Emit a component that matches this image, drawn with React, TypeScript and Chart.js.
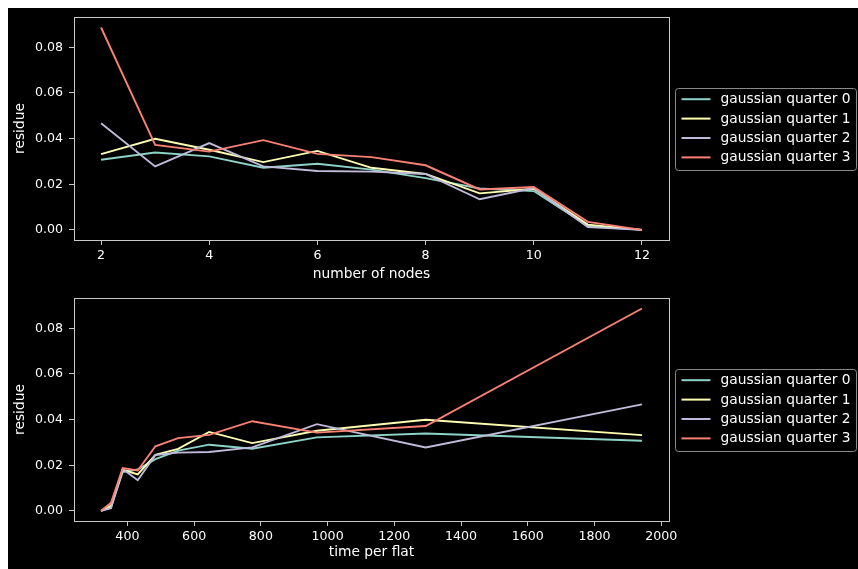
import React, { useEffect, useRef } from 'react';
import { Chart, registerables } from 'chart.js';

Chart.register(...registerables);

// ---- data ----
const nodes = [2, 3, 4, 5, 6, 7, 8, 9, 10, 11, 12];
const timePerFlat = [1942, 1294, 968, 774, 645, 552, 484, 431, 386, 351, 321];
const quarter0 = [0.0307, 0.0339, 0.0322, 0.0272, 0.029, 0.0264, 0.0227, 0.0181, 0.017, 0.0017, 0.0];
const quarter1 = [0.0332, 0.0399, 0.0351, 0.0297, 0.0346, 0.0272, 0.0245, 0.016, 0.018, 0.0023, 0.0];
const quarter2 = [0.0467, 0.0278, 0.038, 0.0278, 0.0258, 0.0255, 0.0245, 0.0134, 0.0183, 0.0012, 0.0];
const quarter3 = [0.0887, 0.0372, 0.0343, 0.0393, 0.0333, 0.0319, 0.0283, 0.0177, 0.0188, 0.0035, 0.0];
const seriesLabels = ['gaussian quarter 0', 'gaussian quarter 1', 'gaussian quarter 2', 'gaussian quarter 3'];
const seriesColors = ['#8dd3c7', '#feffb3', '#bfbbd9', '#fa8174'];
const seriesValues = [quarter0, quarter1, quarter2, quarter3];

// tick labels
const nodeTicks = [2, 4, 6, 8, 10, 12];
const timeTicks = [400, 600, 800, 1000, 1200, 1400, 1600, 1800, 2000];
const residueTicks = [0, 0.02, 0.04, 0.06, 0.08];

const FONT = "'DejaVu Sans', sans-serif";
const TICK_SIZE = 12.6;
const LABEL_SIZE = 13.8;
const SPINE = '#c8c8c8';

const mplPlugin = {
  id: 'mplDecor',
  afterDraw(chart: any) {
    const { ctx, chartArea } = chart;
    ctx.save();
    const l = Math.round(chartArea.left) + 0.5;
    const t = Math.round(chartArea.top) + 0.5;
    const r = Math.round(chartArea.right) + 0.5;
    const b = Math.round(chartArea.bottom) + 0.5;
    ctx.strokeStyle = SPINE;
    ctx.lineWidth = 1;
    ctx.strokeRect(l, t, r - l, b - t);
    // legend
    const cy = (chartArea.top + chartArea.bottom) / 2;
    const bx = Math.round(chartArea.right) + 6.5;
    const by = Math.round(cy - 41) + 0.5;
    const bw = 181;
    const bh = 82;
    ctx.beginPath();
    (ctx as any).roundRect(bx, by, bw, bh, 3);
    ctx.fillStyle = 'rgba(0,0,0,0.8)';
    ctx.fill();
    ctx.strokeStyle = '#8a8a8a';
    ctx.lineWidth = 1;
    ctx.stroke();
    chart.data.datasets.forEach((ds: any, i: number) => {
      const y = cy - 29.3 + i * 19.4;
      ctx.strokeStyle = ds.borderColor;
      ctx.lineWidth = 2;
      ctx.beginPath();
      ctx.moveTo(bx + 6, y);
      ctx.lineTo(bx + 35, y);
      ctx.stroke();
      ctx.fillStyle = '#ffffff';
      ctx.font = `${LABEL_SIZE}px ${FONT}`;
      ctx.textBaseline = 'middle';
      ctx.textAlign = 'left';
      ctx.fillText(ds.label, bx + 45, y + 0.5);
    });
    ctx.restore();
  },
};

function makeConfig(
  xs: number[],
  xTicks: number[],
  xTitle: string,
  xMin: number,
  xMax: number,
  padTop: number,
  xAxisHeight: number,
  titlePadBottom: number
): any {
  return {
    type: 'line',
    data: {
      datasets: seriesValues.map((vals, i) => ({
        label: seriesLabels[i],
        data: xs.map((x, j) => ({ x, y: vals[j] })),
        borderColor: seriesColors[i],
        backgroundColor: seriesColors[i],
        borderWidth: 1.9,
        pointRadius: 0,
        tension: 0,
        fill: false,
        order: seriesValues.length - i,
      })),
    },
    options: {
      responsive: false,
      animation: false,
      maintainAspectRatio: false,
      layout: { padding: { top: padTop, right: 189, left: 0, bottom: 0 } },
      plugins: { legend: { display: false }, tooltip: { enabled: false } },
      scales: {
        x: {
          type: 'linear',
          min: xMin,
          max: xMax,
          afterBuildTicks: (s: any) => {
            s.ticks = xTicks.map((v) => ({ value: v }));
          },
          afterFit: (s: any) => {
            s.height = xAxisHeight;
            s.paddingLeft = 0;
            s.paddingRight = 0;
          },
          ticks: {
            color: '#ffffff',
            font: { family: FONT, size: TICK_SIZE },
            padding: 3,
            maxRotation: 0,
            autoSkip: false,
            callback: (v: number) => String(v),
          },
          grid: { display: true, drawOnChartArea: false, drawTicks: true, tickLength: 5, color: SPINE, lineWidth: 1 },
          border: { display: false },
          title: {
            display: true,
            text: xTitle,
            color: '#ffffff',
            font: { family: FONT, size: LABEL_SIZE },
            padding: { top: 0, bottom: titlePadBottom },
          },
        },
        y: {
          type: 'linear',
          min: -0.00445,
          max: 0.0933,
          afterBuildTicks: (s: any) => {
            s.ticks = residueTicks.map((v) => ({ value: v }));
          },
          afterFit: (s: any) => {
            s.width = 66;
            s.paddingTop = 0;
            s.paddingBottom = 0;
          },
          ticks: {
            color: '#ffffff',
            font: { family: FONT, size: TICK_SIZE },
            padding: 6,
            callback: (v: number) => Number(v).toFixed(2),
          },
          grid: { display: true, drawOnChartArea: false, drawTicks: true, tickLength: 5, color: SPINE, lineWidth: 1 },
          border: { display: false },
          title: {
            display: true,
            text: 'residue',
            color: '#ffffff',
            font: { family: FONT, size: LABEL_SIZE },
            padding: { top: 3.7, bottom: 0 },
          },
        },
      },
    },
    plugins: [mplPlugin],
  };
}

function ChartPanel(props: { config: () => any; width: number; height: number; top: number }) {
  const ref = useRef<HTMLCanvasElement | null>(null);
  useEffect(() => {
    if (!ref.current) return;
    const chart = new Chart(ref.current, props.config());
    return () => chart.destroy();
  }, []);
  return (
    <canvas
      ref={ref}
      width={props.width}
      height={props.height}
      style={{ position: 'absolute', left: 0, top: props.top, width: props.width, height: props.height }}
    />
  );
}

export default function App() {
  return (
    <div
      style={{
        position: 'fixed',
        left: 8,
        top: 8,
        width: 850,
        height: 561,
        background: '#000000',
        overflow: 'hidden',
      }}
    >
      <ChartPanel
        width={850}
        height={276}
        top={0}
        config={() => makeConfig(nodes, nodeTicks, 'number of nodes', 1.5, 12.5, 9, 44, 1.7)}
      />
      <ChartPanel
        width={850}
        height={285}
        top={276}
        config={() => makeConfig(timePerFlat, timeTicks, 'time per flat', 240, 2023, 14, 48, 8.7)}
      />
    </div>
  );
}
